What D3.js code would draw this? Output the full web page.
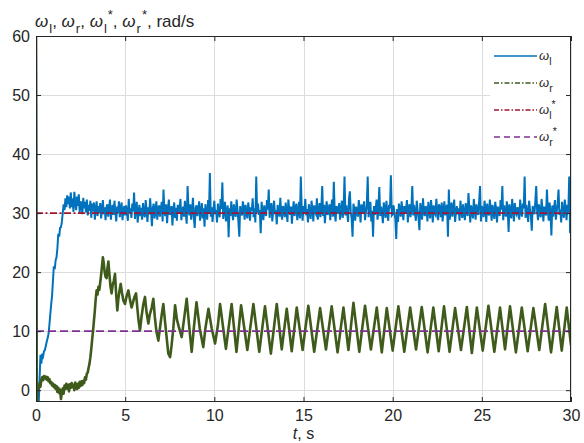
<!DOCTYPE html>
<html><head><meta charset="utf-8">
<script src="https://cdn.jsdelivr.net/npm/d3@7"></script>
<style>body{margin:0;background:#fff}svg{display:block}</style>
</head><body><svg id="c" width="584" height="443"></svg>
<script>
// ---------------- data ----------------
const xTicks = [0, 5, 10, 15, 20, 25, 30];
const yTicks = [0, 10, 20, 30, 40, 50, 60];
const xLabels = ["0", "5", "10", "15", "20", "25", "30"];
const yLabels = ["0", "10", "20", "30", "40", "50", "60"];
const sampleStep = 0.05; // s, sampling of omega_l
// omega_l, rad/s, sampled every 0.05 s from t = 0 (one row per second)
const omegaL = [
62,-3,1,-2.5,2,6,4.5,6.2,5.8,6.6,6.8,7.5,8.2,8.8,9.5,11,12.8,14.5,16,18.5,
21,20.5,22,22.5,24,26.5,26,27.5,27.6,28.5,30,31.5,30.5,32.5,31,33,31.5,32.8,30.8,33.5,
31,32.5,30.2,33.6,31.8,30.5,32.8,31.2,33.2,30,32,31.5,29.8,32.6,30.8,31.9,30.1,32.3,29.6,31.4,
30.4,32.1,29.2,31.6,30.3,31.8,28.9,30.7,32,29.5,31.2,30,31.7,29.1,30.6,32.2,29.8,31,28.8,30.9,
31.5,29.4,30.8,32.3,28.9,30.5,31.4,29.7,32.1,30.2,28.6,31.1,30,32,29.3,30.7,31.8,28.8,30.4,31.2,
29.6,31.3,30.1,28.7,32.4,29.9,30.8,29.2,31.6,30.3,33.5,29,30.6,31.9,28.4,30.2,31.4,29.5,30.9,28.9,
31.7,30,29.3,32.2,30.5,28.5,31,29.8,32.5,30.3,27.8,30.9,31.6,29.1,30.4,32,28.9,30.7,31.3,29.4,
30.8,31.9,28.6,34,30.2,29.5,31.5,28.3,30.6,32.3,29.7,30.1,31.2,27.9,30.5,31.8,29.2,30.9,28.7,31.4,
29.9,30.7,32.4,28.8,30.3,31.1,29.4,32.1,30,28.2,34.6,30.8,29.6,31.5,28.9,30.4,32.6,29.2,27.5,30.9,
31.3,29.5,30.6,32,28.7,30.2,31.7,29.1,30.8,27.7,31.5,30.3,28.9,32.2,30,36.8,29.4,31,28.5,30.6,
32.1,29.8,30.5,28.4,31.6,30.1,29.3,32.4,30.7,35.2,29,30.4,31.9,28.6,30.2,31.3,25.9,30.8,29.5,32,
30.3,28.8,31.5,30,29.4,32.3,30.6,28.5,26,31.2,30.1,29.6,32,30.7,28.9,31.4,30.2,29.1,31.8,30.5,
28.7,31,30.4,32.5,29.3,30.8,28.4,36.2,30.1,31.6,29.7,30.5,26.6,31.9,30.2,28.8,31.3,30,29.5,32.2,
30.6,34,29.2,30.9,31.7,28.6,30.3,32.1,29.8,30.5,28.1,31.4,30.2,29.4,32.6,30,28.9,31.2,30.7,29.3,
31.8,30.1,28.5,32.3,30.6,29.7,31.1,28.2,30.4,32,29.5,30.8,31.6,28.8,30.2,31.9,29.1,36.2,30.5,28.7,
31.2,30,32.4,29.6,30.7,28.4,31.5,30.3,29,32.1,30.6,28.6,31.3,30.1,29.8,32.5,28.9,30.4,31.7,29.3,
30.8,34.6,29.5,31.4,28.3,30.6,32,29.7,30.2,31.5,28.8,30.9,32.3,29.4,35.3,30.1,28.6,31.2,30.5,29.9,
31.7,28.9,30.4,32.1,29.2,30.8,36.2,29.6,31.3,30,28.5,32.4,33.7,30.2,29.1,26,31.6,30.7,28.7,31.1,
30.3,29.4,32.2,30.6,28.4,31.5,29.9,30.8,32,28.8,30.1,31.4,36.2,29.3,30.7,31.9,28.6,30.4,26,31.2,
29.7,30.9,32.3,28.9,30.5,34.4,29.5,31.1,30.2,28.3,31.8,30.6,29.2,32.1,30,28.7,31.4,30.8,36.4,29.6,
29.8,31.3,30.1,29,25.6,30.7,28.5,31.6,30.3,29.4,32,30.5,28.8,31.2,29.9,30.6,32.2,28.4,30.9,31.5,
29.3,30.8,34.6,29.6,31.4,30,28.7,32.1,30.5,29.2,27.1,31.7,30.3,28.9,32.5,30.1,29.5,31.2,30.7,28.6,
31.9,30.4,29.1,32.2,30.6,28.4,31.3,30,29.7,32.4,30.2,28.8,31.5,30.9,29.3,31.8,28.6,30.5,32,29.6,
30.7,31.4,26,34,28.9,30.3,31.8,29.4,30.6,32.3,28.5,30.1,31.2,29.8,30.8,28.7,32.1,30.4,29.2,31.5,
30,28.8,31.7,30.5,29.5,33.4,30.9,28.4,31.3,30.2,29.1,32.4,30.6,28.9,31.5,30.1,29.7,32,34.6,28.6,
31.2,30.4,29.3,32.1,30.7,28.5,31.6,30,29.6,32.3,30.5,28.7,31.4,30.2,29,31.9,30.8,28.4,31.1,30.3,
29.5,32.2,30.6,34.6,28.8,31.3,30.1,29.4,32,30.7,26.8,31.5,30.2,29.1,32.4,30.4,28.6,31.7,30,29.7,
31,30.5,28.9,32.3,30.2,29.4,31.6,30.8,36.2,29.2,31.4,30,28.5,32.1,30.6,29.5,27,31.2,30.3,29.8,
32,34.6,30.4,28.8,31.5,30.1,29.3,32.4,30.7,28.6,31.1,30.2,29.6,34,30.5,28.7,31.8,30,26.2,31.3,
29.4,30.8,32.2,28.9,30.3,31.6,34,29.7,30.6,28.4,31.9,30.1,29.2,32.3,30.7,28.8,31.4,30.2,36.2,26.6,
30.4
];
// omega_r, rad/s, as [t (s), value] points
const omegaR = [
[0,62],[0.04,-3],[0.1,0.8],[0.15,0.3],[0.2,1.2],[0.25,0.6],[0.3,1.8],[0.35,2.2],[0.4,1.7],[0.45,2.4],
[0.5,2],[0.55,2.3],[0.6,1.8],[0.65,2.2],[0.7,1.5],[0.75,1.9],[0.8,1.2],[0.85,1.4],[0.9,0.8],[0.95,1.1],
[1,0.5],[1.05,0.9],[1.1,0.2],[1.15,0.7],[1.2,-0.3],[1.25,0.4],[1.3,-0.5],[1.35,0.1],[1.4,-1.5],[1.45,-0.4],
[1.5,0.3],[1.55,-0.6],[1.6,0.8],[1.65,0.2],[1.7,1.1],[1.75,0.3],[1.8,0.9],[1.85,-0.2],[1.9,1],[1.95,0.4],
[2,1.2],[2.05,0.5],[2.1,0.9],[2.15,0],[2.2,1.3],[2.25,0.6],[2.3,0.2],[2.35,1.1],[2.4,0.4],[2.45,1.4],
[2.5,0.7],[2.55,1.5],[2.6,0.9],[2.65,1.6],[2.7,1.2],[2.75,2.2],[2.8,1.8],[2.85,2.8],[2.9,3],[2.95,3.8],
[3,4.5],[3.05,5.6],[3.1,7],[3.15,8.6],[3.2,10.1],[3.25,11.8],[3.3,13.5],[3.35,15.5],[3.4,16.9],[3.45,16.2],
[3.5,17.5],[3.55,17],[3.6,18.2],[3.65,19.5],[3.7,21],[3.75,22.5],[3.8,21.5],[3.85,20],[3.9,19.2],[3.96,19],
[4.0,20.5],[4.06,21.8],[4.12,19.5],[4.18,17.5],[4.24,16.4],[4.3,17.8],[4.36,18.5],[4.43,19.7],[4.5,16],[4.56,13.5],
[4.62,15.5],[4.68,16.8],[4.75,18],[4.82,16.5],[4.9,15.2],[4.99,14.6],[5.08,15.9],[5.18,16.9],[5.27,15.3],[5.36,14],
[5.45,15],[5.52,15.8],[5.61,16.4],[5.68,14],[5.75,11.8],[5.83,10.1],[5.92,12.5],[6.02,14.6],[6.11,15.8],[6.2,13.2],
[6.3,11.3],[6.38,12.8],[6.49,14],[6.58,15.5],[6.66,12.5],[6.75,10],[6.86,8.4],[6.95,10.5],[7.05,12.8],[7.14,14.6],
[7.23,11.8],[7.33,8.8],[7.42,6.2],[7.52,5.6],[7.6,7.5],[7.7,10.5],[7.8,14.4],[7.9,12],[8.0,10.8],[8.17,9],
[8.3,12],[8.45,15.5],[8.6,10.5],[8.73,6.5],[8.85,10.5],[9.0,14.9],[9.18,10.5],[9.38,7.3],[9.5,10.5],[9.67,13.8],
[9.85,10.5],[10.04,7.9],[10.2,11],[10.32,14.6],[10.65,7],[10.97,14.6],[11.24,6.5],[11.5,14.4],[11.85,6.8],[12.19,14.6],
[12.52,6.5],[12.84,14.2],[13.17,6.2],[13.5,14.6],[13.78,6.9],[14.06,13.8],[14.34,6.6],[14.62,14],[14.95,6.8],[15.27,14.3],
[15.6,6.5],[15.93,13.9],[16.26,6.9],[16.58,14.2],[16.91,6.4],[17.24,14],[17.52,6.8],[17.8,14.8],[18.13,6.5],[18.45,14.3],
[18.78,6.9],[19.11,14],[19.39,6.4],[19.67,13.9],[20.0,6.7],[20.32,14.2],[20.65,6.5],[20.98,14],[21.31,6.9],[21.63,14.1],
[21.96,6.4],[22.28,14],[22.58,6.6],[22.88,14.2],[23.19,6.5],[23.5,13.9],[23.83,6.8],[24.16,14.1],[24.44,6.3],[24.72,14],
[25.05,6.7],[25.37,14.3],[25.7,6.5],[26.02,14],[26.3,6.9],[26.58,14.2],[26.91,6.4],[27.24,14],[27.57,6.6],[27.89,13.9],
[28.22,6.8],[28.55,14.6],[28.88,6.4],[29.2,14.1],[29.48,6.7],[29.76,14],[30,7.6]
];
const omegaLRef = 30;  // rad/s
const omegaRRef = 10;  // rad/s
const seriesNames = [["l",""],["r",""],["l","*"],["r","*"]];
const seriesColors = ["#0072BD", "#3F5B1B", "#A2142F", "#7E2F8E"];

// ---------------- drawing ----------------
const W = 584, H = 443;
const m = {l: 36, r: 13, t: 36, b: 41};
const x = d3.scaleLinear().domain([0, 30]).range([m.l, W - m.r]);
const y = d3.scaleLinear().domain([-2, 60]).range([H - m.b, m.t]);
const svg = d3.select("#c");
const FONT = "'Liberation Sans', Arial, Helvetica, sans-serif";
const TXT = "#262626";

svg.append("defs").append("clipPath").attr("id", "clip")
  .append("rect").attr("x", m.l).attr("y", m.t)
  .attr("width", W - m.l - m.r).attr("height", H - m.t - m.b);

// grid
const grid = svg.append("g").attr("stroke", "#dcdcdc").attr("stroke-width", 1);
grid.selectAll(".gx").data(xTicks).join("line")
  .attr("x1", d => Math.round(x(d)) + 0.5).attr("x2", d => Math.round(x(d)) + 0.5)
  .attr("y1", m.t).attr("y2", H - m.b);
grid.selectAll(".gy").data(yTicks).join("line")
  .attr("y1", d => Math.round(y(d)) + 0.5).attr("y2", d => Math.round(y(d)) + 0.5)
  .attr("x1", m.l).attr("x2", W - m.r);

const plot = svg.append("g").attr("clip-path", "url(#clip)");
const lineL = d3.line().x((d, i) => x(i * sampleStep)).y(d => y(d));
plot.append("path").datum(omegaL).attr("d", lineL)
  .attr("fill", "none").attr("stroke", seriesColors[0]).attr("stroke-width", 2)
  .attr("stroke-linejoin", "miter");
const lineR = d3.line().x(d => x(d[0])).y(d => y(d[1]));
plot.append("path").datum(omegaR).attr("d", lineR)
  .attr("fill", "none").attr("stroke", seriesColors[1]).attr("stroke-width", 2.6)
  .attr("stroke-linejoin", "round");
plot.append("line").attr("x1", x(0)).attr("x2", x(30))
  .attr("y1", y(omegaLRef)).attr("y2", y(omegaLRef))
  .attr("stroke", seriesColors[2]).attr("stroke-width", 1.6).attr("stroke-dasharray", "7,2.5,2,2.5");
plot.append("line").attr("x1", x(0)).attr("x2", x(30))
  .attr("y1", y(omegaRRef)).attr("y2", y(omegaRRef))
  .attr("stroke", seriesColors[3]).attr("stroke-width", 1.6).attr("stroke-dasharray", "8,4");

// legend (white background, no border)
const lg = svg.append("g");
lg.append("rect").attr("x", 490).attr("y", m.t + 1).attr("width", W - m.r - 491).attr("height", 113).attr("fill", "#fff");
const dashes = [null, "5,2,1.5,2", "5,2,1.5,2", "6,4"];
const rowY = [56, 83, 110, 137];
seriesNames.forEach((s, i) => {
  lg.append("line").attr("x1", 494).attr("x2", 537).attr("y1", rowY[i]).attr("y2", rowY[i])
    .attr("stroke", seriesColors[i]).attr("stroke-width", i === 0 ? 1.5 : 1.3)
    .attr("stroke-dasharray", dashes[i]);
  const t = lg.append("text").attr("x", 539).attr("y", rowY[i] + 4)
    .attr("font-family", FONT).attr("font-size", 13).attr("fill", TXT);
  t.append("tspan").attr("font-style", "italic").text("ω");
  t.append("tspan").attr("font-size", 10.5).attr("dy", 5).text(s[0]);
  if (s[1]) t.append("tspan").attr("font-size", 10.5).attr("dy", -11).text(s[1]);
});

// axes
function styleAxis(g) {
  g.selectAll("path").remove();
  g.selectAll("line").attr("stroke", TXT);
  g.selectAll("text").attr("fill", TXT).attr("font-family", FONT).attr("font-size", 16);
}
svg.append("g").attr("transform", `translate(0,${H - m.b})`)
  .call(d3.axisBottom(x).tickValues(xTicks).tickFormat((d, i) => xLabels[i]).tickSizeInner(-5).tickSizeOuter(0).tickPadding(8))
  .call(styleAxis);
svg.append("g").attr("transform", `translate(${m.l},0)`)
  .call(d3.axisLeft(y).tickValues(yTicks).tickFormat((d, i) => yLabels[i]).tickSizeInner(-5).tickSizeOuter(0).tickPadding(6))
  .call(styleAxis);
svg.append("g").attr("transform", `translate(0,${m.t})`)
  .call(d3.axisTop(x).tickValues(xTicks).tickFormat("").tickSizeInner(-5).tickSizeOuter(0))
  .call(styleAxis);
svg.append("g").attr("transform", `translate(${W - m.r},0)`)
  .call(d3.axisRight(y).tickValues(yTicks).tickFormat("").tickSizeInner(-5).tickSizeOuter(0))
  .call(styleAxis);
svg.append("rect").attr("x", m.l + 0.5).attr("y", m.t + 0.5)
  .attr("width", W - m.l - m.r - 1).attr("height", H - m.t - m.b - 1)
  .attr("fill", "none").attr("stroke", TXT).attr("stroke-width", 1);

// title (y-axis quantity) and x-axis label
const tt = svg.append("text").attr("x", 35).attr("y", 27)
  .attr("font-family", FONT).attr("font-size", 17).attr("fill", TXT);
const parts = [["l",""],["r",""],["l","*"],["r","*"]];
parts.forEach((p, i) => {
  tt.append("tspan").attr("font-style", "italic").text("ω");
  tt.append("tspan").attr("font-size", 13).attr("dx", 1).attr("dy", 6).text(p[0]);
  if (p[1]) {
    tt.append("tspan").attr("font-size", 13).attr("dx", 1).attr("dy", -14).text(p[1]);
    tt.append("tspan").attr("dy", 8).text(", ");
  } else {
    tt.append("tspan").attr("dy", -6).text(", ");
  }
});
tt.append("tspan").text("rad/s");

const xl = svg.append("text").attr("x", x(15)).attr("y", 439).attr("text-anchor", "middle")
  .attr("font-family", FONT).attr("font-size", 16).attr("fill", TXT);
xl.append("tspan").attr("font-style", "italic").text("t");
xl.append("tspan").text(", s");
</script>
</body></html>
